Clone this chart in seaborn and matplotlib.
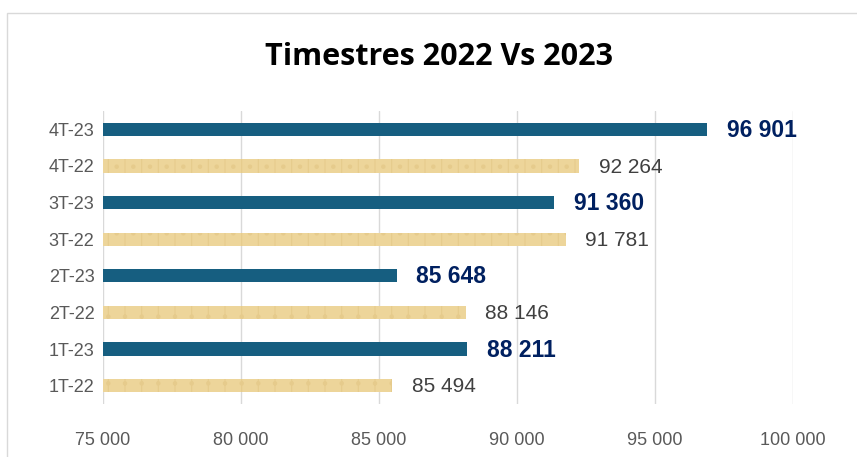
import matplotlib
matplotlib.use("Agg")
import matplotlib.pyplot as plt
import seaborn as sns
import pandas as pd
from matplotlib.patches import Rectangle
from matplotlib.ticker import FuncFormatter

categories = ["4T-23", "4T-22", "3T-23", "3T-22", "2T-23", "2T-22", "1T-23", "1T-22"]
values = [96901, 92264, 91360, 91781, 85648, 88146, 88211, 85494]
years = ["2023", "2022", "2023", "2022", "2023", "2022", "2023", "2022"]
x_ticks = [75000, 80000, 85000, 90000, 95000, 100000]

df = pd.DataFrame({"cat": categories, "val": values, "year": years})

sns.set_theme(style="white")
plt.rcParams["font.family"] = ["Liberation Sans", "DejaVu Sans"]
plt.rcParams["hatch.linewidth"] = 0.8

fig = plt.figure(figsize=(8.57, 4.57), dpi=100)
ax = fig.add_axes([0.120, 0.116, 0.805, 0.641])

palette = {"2023": "#165E80", "2022": "#EDD59A"}
sns.barplot(data=df, y="cat", x="val", hue="year", order=categories, palette=palette,
            dodge=False, width=0.36, orient="h", legend=False, ax=ax, saturation=1,
            linewidth=0)

for bar in ax.patches:
    if abs(bar.get_facecolor()[0] - 0xED / 255) < 0.02:
        bar.set_hatch("|.")
        bar.set_edgecolor("#E6CB8C")
        bar.set_linewidth(0)

ax.set_xlim(75000, 100000)
ax.set_ylim(7.5, -0.5)
ax.set_xticks(x_ticks)
ax.xaxis.set_major_formatter(FuncFormatter(lambda v, p: f"{int(v):,}".replace(",", " ")))
ax.grid(axis="x", color="#D9D9D9", linewidth=1)
ax.set_axisbelow(True)
for s in ax.spines.values():
    s.set_visible(False)
ax.tick_params(axis="x", colors="#595959", labelsize=13, length=0, pad=20)
ax.tick_params(axis="y", colors="#595959", labelsize=13, length=0, pad=6)
ax.set_xlabel("")
ax.set_ylabel("")

for i, (v, yr) in enumerate(zip(values, years)):
    txt = f"{v:,}".replace(",", " ")
    if yr == "2023":
        ax.text(v + 700, i + 0.03, txt, va="center", ha="left", fontsize=16.5, fontweight="bold",
                color="#002060", clip_on=False)
    else:
        ax.text(v + 700, i + 0.03, txt, va="center", ha="left", fontsize=15,
                color="#404040", clip_on=False)

fig.text(0.512, 0.875, "Timestres 2022 Vs 2023", ha="center", va="center", fontsize=22,
         fontweight="bold", color="#000000", family=["Open Sans", "DejaVu Sans"])

fig.patches.append(Rectangle((0.008, -0.1), 1.2, 1.0716, transform=fig.transFigure,
                             fill=False, edgecolor="#D9D9D9", linewidth=1))

fig.savefig("out.png", dpi=100)
